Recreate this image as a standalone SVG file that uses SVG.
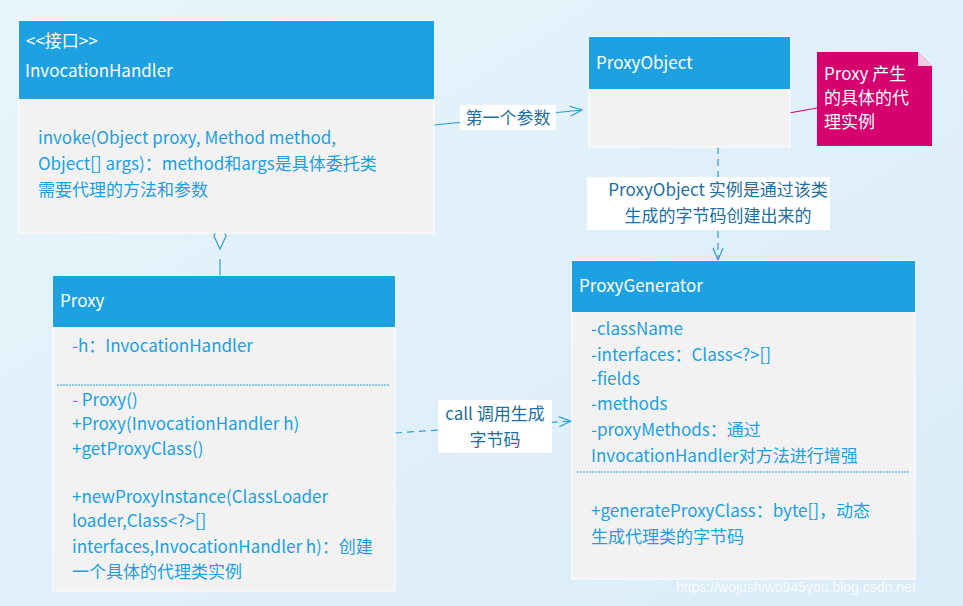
<svg xmlns="http://www.w3.org/2000/svg" width="963" height="606" viewBox="0 0 963 606">
<defs>
<linearGradient id="bg" x1="0" y1="0" x2="1" y2="1"><stop offset="0" stop-color="#e8f4fb"/><stop offset="1" stop-color="#d9ecf8"/></linearGradient>
<marker id="open" markerWidth="14" markerHeight="12" refX="13" refY="6" orient="auto" markerUnits="userSpaceOnUse"><path d="M1,1 L13,6 L1,11" fill="none" stroke="#2a9fdc" stroke-width="1.2"/></marker>
<style>
text{font-family:"Noto Sans CJK SC","Noto Sans",sans-serif;font-size:17px}
.hd{fill:#1da1e0}
.bd{fill:#f2f2f2;stroke:#ffffff;stroke-width:1}
.ht{fill:#ffffff}
.bt{fill:#1ba1e2}
.lbl{fill:#ffffff}
.lt{fill:#1c6fa0}
.sep{stroke:#1da1e0;stroke-width:1;stroke-dasharray:2,1}
.ln{stroke:#2a9fdc;stroke-width:1.2;fill:none}
</style>
</defs>
<rect width="963" height="606" fill="url(#bg)"/>
<g id="connectors">
<line class="ln" x1="434" y1="125" x2="582" y2="110" marker-end="url(#open)"/>
<rect class="lbl" x="460" y="105" width="96" height="25"/>
<text class="lt" x="508" y="124" text-anchor="middle">第一个参数</text>
<line class="ln" x1="718" y1="147" x2="718" y2="260" stroke-dasharray="7,5" marker-end="url(#open)"/>
<rect class="lbl" x="587" y="177" width="243" height="53"/>
<text class="lt" x="718" y="196" text-anchor="middle">ProxyObject 实例是通过该类</text>
<text class="lt" x="718" y="222" text-anchor="middle">生成的字节码创建出来的</text>
<line class="ln" x1="395" y1="433" x2="571" y2="421" stroke-dasharray="7,5" marker-end="url(#open)"/>
<rect class="lbl" x="438" y="400" width="114" height="53"/>
<text class="lt" x="495" y="420" text-anchor="middle">call 调用生成</text>
<text class="lt" x="495" y="446" text-anchor="middle">字节码</text>
<line class="ln" x1="220" y1="259" x2="220" y2="276"/>
<path d="M220,223 L226,236 L220,249 L214,236 Z" fill="#f2f2f2" stroke="#2a9fdc" stroke-width="1.2"/>
<line x1="767" y1="117" x2="817" y2="108" stroke="#d6006f" stroke-width="1.2"/>
</g>
<g id="invocationHandler">
<rect class="bd" x="19" y="21" width="415" height="212"/>
<rect class="hd" x="19" y="21" width="415" height="78"/>
<text class="ht" x="26" y="47">&lt;&lt;接口&gt;&gt;</text>
<text class="ht" x="25" y="77">InvocationHandler</text>
<text class="bt" x="38" y="144">invoke(Object proxy, Method method,</text>
<text class="bt" x="38" y="170">Object[] args)：method和args是具体委托类</text>
<text class="bt" x="38" y="196">需要代理的方法和参数</text>
</g>
<g id="proxyObject">
<rect class="bd" x="589" y="37" width="201" height="110"/>
<rect class="hd" x="589" y="37" width="201" height="52"/>
<text class="ht" x="596" y="69">ProxyObject</text>
</g>
<g id="note">
<path d="M817,52 L918,52 L932,66 L932,146 L817,146 Z" fill="#d6006f"/>
<path d="M918,52 L932,66 L918,66 Z" fill="#ffffff" opacity="0.8"/>
<text class="ht" x="824" y="80">Proxy 产生</text>
<text class="ht" x="824" y="104">的具体的代</text>
<text class="ht" x="824" y="128">理实例</text>
</g>
<g id="proxy">
<rect class="bd" x="53" y="276" width="342" height="315"/>
<rect class="hd" x="53" y="276" width="342" height="51"/>
<text class="ht" x="60" y="307">Proxy</text>
<text class="bt" x="72" y="352">-h：InvocationHandler</text>
<line class="sep" x1="57" y1="385" x2="390" y2="385"/>
<text class="bt" x="72" y="406">- Proxy()</text>
<text class="bt" x="72" y="430">+Proxy(InvocationHandler h)</text>
<text class="bt" x="72" y="455">+getProxyClass()</text>
<text class="bt" x="72" y="503">+newProxyInstance(ClassLoader</text>
<text class="bt" x="72" y="527">loader,Class&lt;?&gt;[]</text>
<text class="bt" x="72" y="553">interfaces,InvocationHandler h)：创建</text>
<text class="bt" x="72" y="578">一个具体的代理类实例</text>
</g>
<g id="proxyGenerator">
<rect class="bd" x="572" y="261" width="343" height="318"/>
<rect class="hd" x="572" y="261" width="343" height="51"/>
<text class="ht" x="579" y="292">ProxyGenerator</text>
<text class="bt" x="591" y="335">-className</text>
<text class="bt" x="591" y="361">-interfaces：Class&lt;?&gt;[]</text>
<text class="bt" x="591" y="385">-fields</text>
<text class="bt" x="591" y="410">-methods</text>
<text class="bt" x="591" y="436">-proxyMethods：通过</text>
<text class="bt" x="591" y="462">InvocationHandler对方法进行增强</text>
<line class="sep" x1="577" y1="472" x2="910" y2="472"/>
<text class="bt" x="591" y="517">+generateProxyClass：byte[]，动态</text>
<text class="bt" x="591" y="543">生成代理类的字节码</text>
</g>
<text x="676" y="592" style="font-family:'Liberation Sans',sans-serif;font-size:14px" fill="#ffffff" opacity="0.85">https://wojushiwo945you.blog.csdn.net</text>
</svg>
